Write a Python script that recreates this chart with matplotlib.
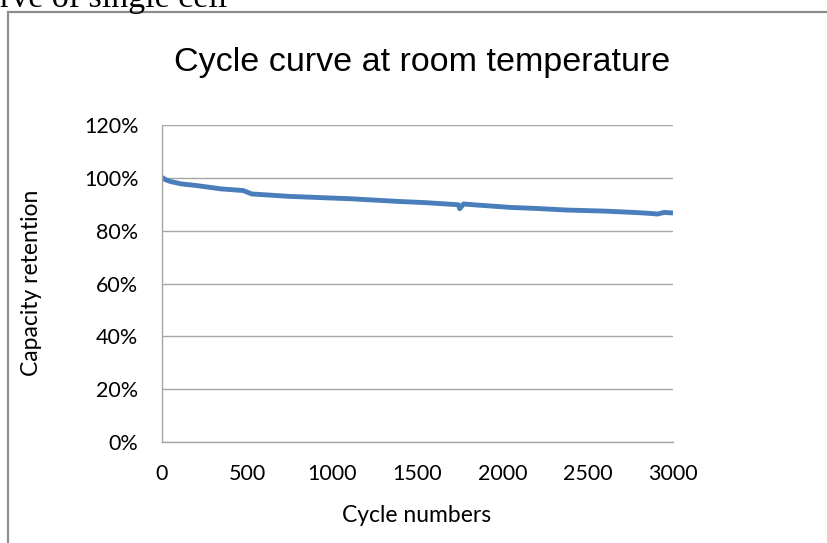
import matplotlib
matplotlib.use("Agg")
import matplotlib.pyplot as plt
from matplotlib.patches import Rectangle
from matplotlib.ticker import PercentFormatter

# Data
cycles = [0, 20, 50, 114, 200, 349, 476, 527, 741, 976, 1100, 1378, 1550, 1740,
          1748, 1770, 1850, 2046, 2200, 2380, 2600, 2771, 2850, 2910, 2947, 3000]
retention = [100.2, 99.3, 98.6, 97.7, 97.1, 95.8, 95.2, 93.9, 93.0, 92.4, 92.1, 91.1,
             90.6, 89.8, 88.3, 90.1, 89.7, 88.8, 88.4, 87.8, 87.4, 86.9, 86.6, 86.3,
             86.9, 86.7]
x_ticks = [0, 500, 1000, 1500, 2000, 2500, 3000]
y_ticks = [0, 20, 40, 60, 80, 100, 120]

W, H = 827, 543
fig = plt.figure(figsize=(W / 100, H / 100), dpi=100)

# outer chart frame (extends beyond the picture)
fig.patches.append(Rectangle((8 / W, -0.1), 1.2, 1 - 12 / H + 0.1,
                             transform=fig.transFigure, fill=False,
                             edgecolor="#8c8c8c", linewidth=1.6))

# caption fragment cut at top, as in the reference
fig.text(0 / W, 1 - 7 / H, "rve of single cell", family="Liberation Serif",
         fontsize=24.5, ha="left", va="baseline", color="black")

ax = fig.add_axes([162 / W, 1 - 442 / H, (673 - 162) / W, (442 - 125) / H])
ax.plot(cycles, retention, color="#4A7EBB", linewidth=3.5, solid_capstyle="butt")

ax.set_xlim(0, 3000)
ax.set_ylim(0, 120)
ax.set_xticks(x_ticks)
ax.set_yticks(y_ticks)
ax.yaxis.set_major_formatter(PercentFormatter(decimals=0))
ax.grid(axis="y", color="#a6a6a6", linewidth=1.0)
ax.set_axisbelow(True)
for s in ["top", "right"]:
    ax.spines[s].set_visible(False)
for s in ["left", "bottom"]:
    ax.spines[s].set_color("#a6a6a6")
    ax.spines[s].set_linewidth(1.0)
ax.tick_params(length=0, labelsize=15.5, labelcolor="black")
ax.tick_params(axis="x", pad=16)
ax.tick_params(axis="y", pad=17)
for lab in ax.get_xticklabels() + ax.get_yticklabels():
    lab.set_family("Lato")

fig.text(422 / W, 1 - 62 / H, "Cycle curve at room temperature",
         family="Liberation Sans", fontsize=24.5, ha="center", va="center")
fig.text(417 / W, 1 - 515 / H, "Cycle numbers", family="Lato",
         fontsize=16.5, ha="center", va="center")
fig.text(32 / W, 1 - 283 / H, "Capacity retention", family="Lato",
         fontsize=16.5, ha="center", va="center", rotation=90)

fig.savefig("out.png", dpi=100)
